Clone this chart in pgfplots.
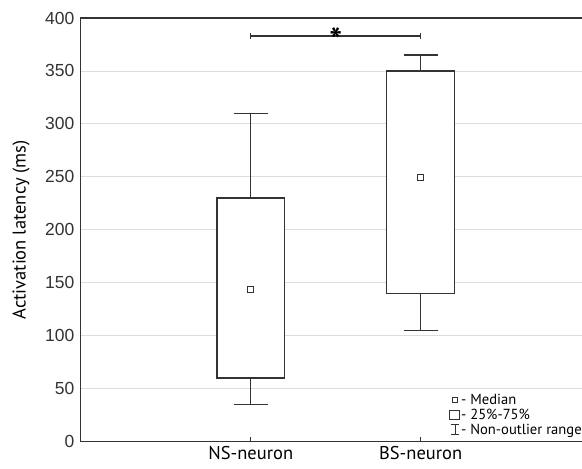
\documentclass[border=0pt]{standalone}
\usepackage{fontspec}
\setmainfont{PT Sans}
\newfontfamily\arialfont{Liberation Sans}
\usepackage{pgfplots}
\pgfplotsset{compat=1.18}

\definecolor{lineclr}{HTML}{333333}
\definecolor{gridclr}{HTML}{DDDDDD}

\begin{document}
\begin{tikzpicture}
\begin{axis}[
  scale only axis,
  width=510pt, height=424pt,
  xmin=0, xmax=3,
  ymin=0, ymax=400,
  axis line style={lineclr, line width=1.1pt},
  xtick={1,2},
  xticklabels={NS-neuron,BS-neuron},
  ytick={0,50,...,400},
  ymajorgrids=true,
  grid style={gridclr, line width=0.8pt},
  tick align=inside,
  major tick length=5pt,
  xtick style={lineclr, line width=0.9pt},
  ytick style={draw=none},
  ytick pos=left, xtick pos=bottom,
  /pgf/number format/assume math mode=true,
  yticklabel style={font=\arialfont\fontsize{17.5}{20}\selectfont, text=lineclr, xshift=-3pt},
  xticklabel style={font=\fontsize{18.5}{21}\selectfont, text=black, yshift=-1pt},
  ylabel={Activation latency (ms)},
  every axis y label/.style={at={(rel axis cs:0,0.5)}, xshift=-60pt, rotate=90, anchor=center,
    font=\fontsize{18.5}{21}\selectfont},
  legend style={at={(rel axis cs:0.717,0.12)}, anchor=north west, draw=none, fill=none,
    font=\fontsize{14.6}{17.5}\selectfont, legend cell align=left,
    row sep=0.5pt, nodes={inner sep=1.2pt}},
  unbounded coords=jump,
]
% legend first
\addlegendimage{legend image code/.code={\draw[lineclr, line width=1pt] (0.18cm,-2.5pt) rectangle ++(5pt,5pt);}}
\addlegendentry{- Median}
\addlegendimage{legend image code/.code={\draw[lineclr, line width=1pt] (0.08cm,-4.8pt) rectangle ++(9.5pt,9.5pt);}}
\addlegendentry{- 25\%-75\%}
\addlegendimage{legend image code/.code={\draw[lineclr, line width=1pt] (0.26cm,-4.8pt) -- ++(0,9.6pt) (0.12cm,4.8pt) -- ++(8pt,0) (0.12cm,-4.8pt) -- ++(8pt,0);}}
\addlegendentry{- Non-outlier range}

% whiskers: NS (35 / 310), BS (105 / 365)
\addplot[forget plot, lineclr, line width=1.4pt] coordinates {
  (1,35) (1,310) (nan,nan) (0.9,35) (1.1,35) (nan,nan) (0.9,310) (1.1,310) (nan,nan)
  (2,105) (2,365) (nan,nan) (1.9,105) (2.1,105) (nan,nan) (1.9,365) (2.1,365)
};
% boxes: quartiles NS 60-230, BS 140-350
\addplot[forget plot, draw=lineclr, fill=white, line width=1.4pt] coordinates {
  (0.8,60) (1.2,60) (1.2,230) (0.8,230) (0.8,60)} -- cycle;
\addplot[forget plot, draw=lineclr, fill=white, line width=1.4pt] coordinates {
  (1.8,140) (2.2,140) (2.2,350) (1.8,350) (1.8,140)} -- cycle;
% medians
\addplot[forget plot, only marks, mark=square, mark size=3pt,
  mark options={draw=lineclr, fill=white, line width=1.1pt}]
  coordinates {(1,144) (2,249)};

% significance bar
\draw[lineclr, line width=1.4pt] (axis cs:1,383) -- (axis cs:2,383);
\draw[lineclr, line width=1.4pt] (axis cs:1,380) -- (axis cs:1,386);
\draw[lineclr, line width=1.4pt] (axis cs:2,380) -- (axis cs:2,386);
\node[font=\bfseries\fontsize{34}{34}\selectfont, inner sep=0pt, anchor=center]
  at (axis cs:1.5,379) {*};

\coordinate (bbl) at (rel axis cs:0,0);
\coordinate (bbr) at (rel axis cs:0.9833,1);
\end{axis}
\pgfresetboundingbox
\path[use as bounding box] ([xshift=-81pt,yshift=-27pt]bbl) rectangle ([yshift=18pt]bbr);
\end{tikzpicture}
\end{document}
